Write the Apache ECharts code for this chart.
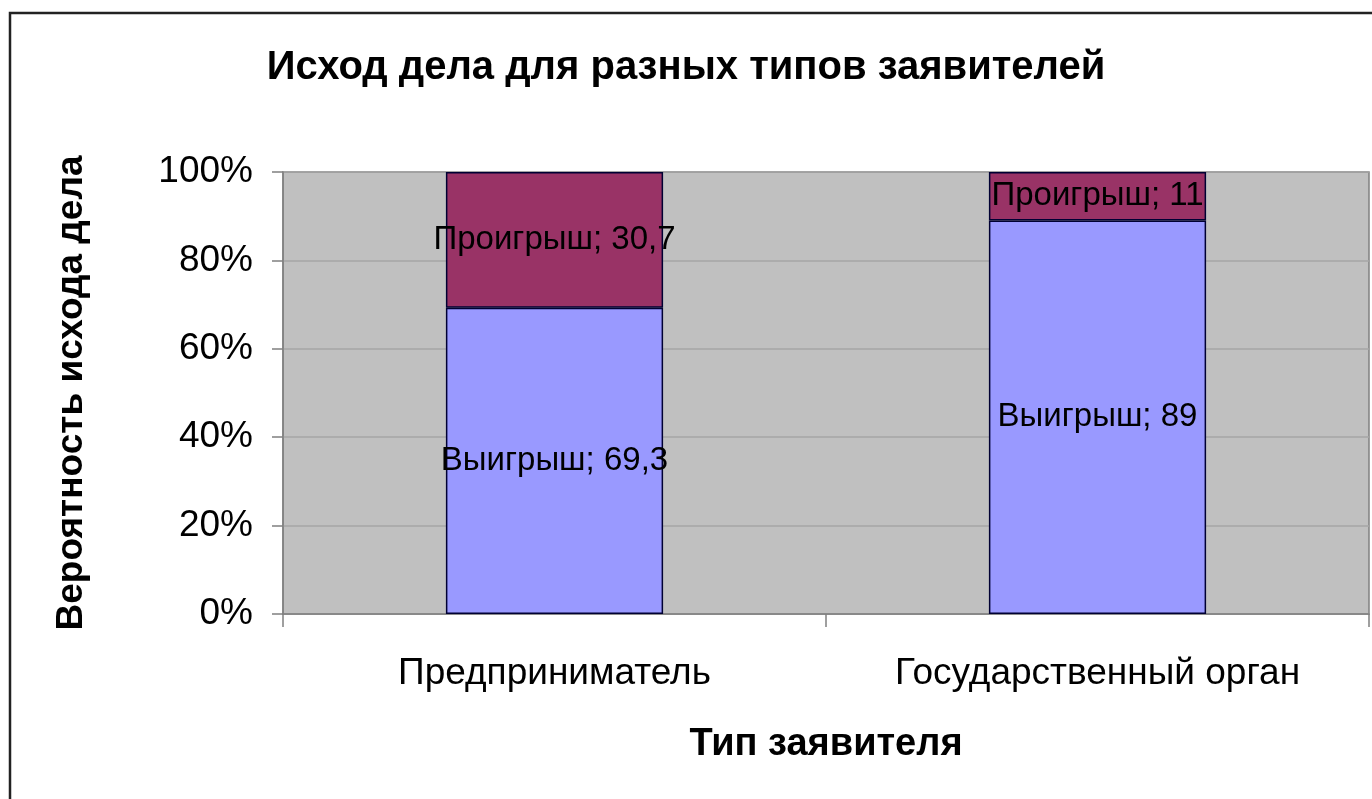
<!DOCTYPE html>
<html>
<head>
<meta charset="utf-8">
<script src="https://cdn.jsdelivr.net/npm/echarts@6/dist/echarts.min.js"></script>
<style>
html,body{margin:0;padding:0;background:#fff;}
#chart{width:1372px;height:799px;}
</style>
</head>
<body>
<div id="chart"></div>
<script>
const categories = ['Предприниматель', 'Государственный орган'];
const winValues = [69.3, 89];
const lossValues = [30.7, 11];
const yTicks = [0, 20, 40, 60, 80, 100];

const chart = echarts.init(document.getElementById('chart'));
const font = 'Liberation Sans, Arial, sans-serif';
function fmt(p) {
  return p.seriesName + '; ' + String(p.value).replace('.', ',');
}
const option = {
  backgroundColor: '#ffffff',
  animation: false,
  title: {
    text: 'Исход дела для разных типов заявителей',
    left: 'center',
    top: 43,
    textStyle: { fontFamily: font, fontSize: 40, fontWeight: 'bold', color: '#000' }
  },
  graphic: [{
    type: 'rect',
    shape: { x: 10, y: 13, width: 1400, height: 820 },
    style: { fill: 'none', stroke: '#222', lineWidth: 2.5 },
    silent: true
  }],
  grid: {
    left: 283, top: 172, right: 3, bottom: 185,
    show: true, backgroundColor: '#c0c0c0', borderColor: '#808080', borderWidth: 1.5
  },
  xAxis: {
    type: 'category',
    data: categories,
    name: 'Тип заявителя',
    nameLocation: 'middle',
    nameGap: 112,
    nameTextStyle: { fontFamily: font, fontSize: 38, fontWeight: 'bold', color: '#000' },
    axisLine: { lineStyle: { color: '#808080', width: 1.5 } },
    axisTick: { show: true, length: 13, lineStyle: { color: '#808080', width: 1.5 } },
    axisLabel: { fontFamily: font, fontSize: 37, color: '#000', margin: 41 }
  },
  yAxis: {
    type: 'value',
    min: 0, max: 100, interval: 20,
    name: 'Вероятность исхода дела',
    nameLocation: 'middle',
    nameGap: 193,
    nameTextStyle: { fontFamily: font, fontSize: 37, fontWeight: 'bold', color: '#000' },
    axisLine: { show: true, lineStyle: { color: '#808080', width: 1.5 } },
    axisTick: { show: true, length: 11, lineStyle: { color: '#808080', width: 1.5 } },
    splitLine: { lineStyle: { color: '#a6a6a6', width: 1.5 } },
    axisLabel: {
      fontFamily: font, fontSize: 37, color: '#000', margin: 30,
      formatter: function (v) { return yTicks.indexOf(v) >= 0 ? v + '%' : ''; }
    }
  },
  series: [
    {
      name: 'Выигрыш', type: 'bar', stack: 'total', data: winValues,
      barCategoryGap: '60%',
      itemStyle: { color: '#9999ff', borderColor: '#000033', borderWidth: 1.5 },
      label: { show: true, position: 'inside', formatter: fmt, fontFamily: font, fontSize: 33, color: '#000' }
    },
    {
      name: 'Проигрыш', type: 'bar', stack: 'total', data: lossValues,
      barCategoryGap: '60%',
      itemStyle: { color: '#993366', borderColor: '#000033', borderWidth: 1.5 },
      label: { show: true, position: 'inside', formatter: fmt, fontFamily: font, fontSize: 33, color: '#000' }
    }
  ]
};
chart.setOption(option);
</script>
</body>
</html>
